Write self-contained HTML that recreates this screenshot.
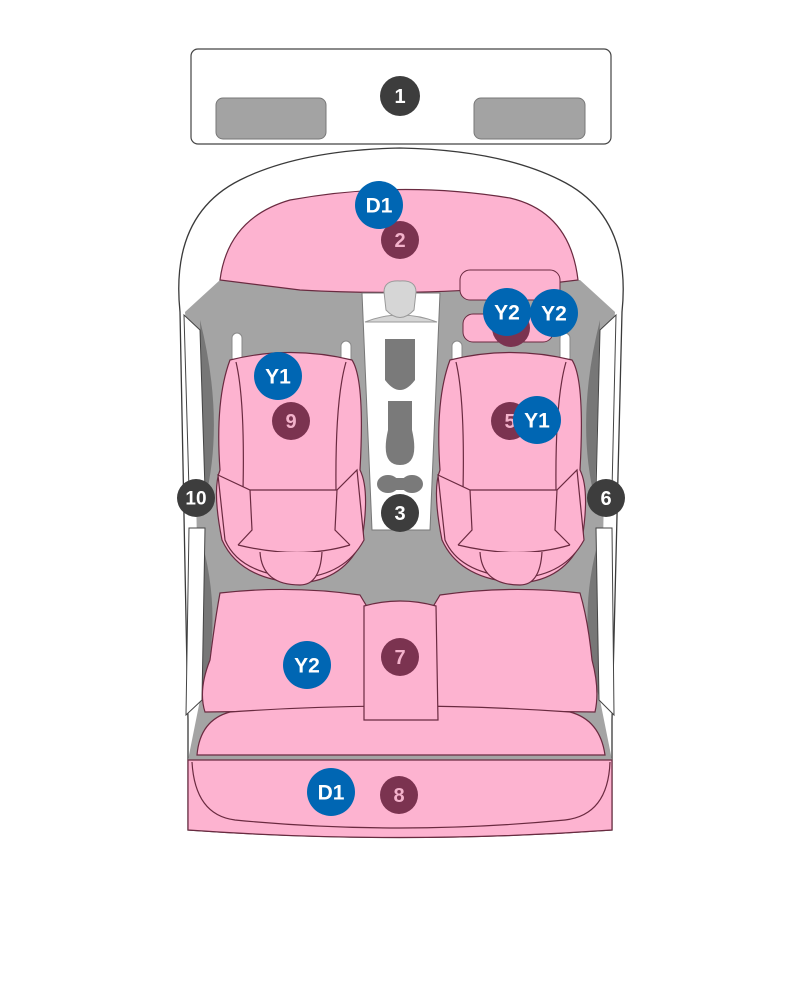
<!DOCTYPE html>
<html><head><meta charset="utf-8"><style>
html,body{margin:0;padding:0;background:#fff;width:800px;height:1002px;overflow:hidden}
svg text{font-family:"Liberation Sans",sans-serif;font-weight:bold;text-anchor:middle;dominant-baseline:central}
</style></head><body>
<svg width="800" height="1002" viewBox="0 0 800 1002" xmlns="http://www.w3.org/2000/svg">
<!-- top box -->
<rect x="191" y="49" width="420" height="95" rx="7" fill="#fff" stroke="#444" stroke-width="1.2"/>
<rect x="216" y="98" width="110" height="41" rx="7" fill="#a3a3a3" stroke="#777"/>
<rect x="474" y="98" width="111" height="41" rx="7" fill="#a3a3a3" stroke="#777"/>
<!-- car body outline -->
<path d="M180,312 Q170,215 240,180 Q300,150 400,148 Q500,150 560,180 Q632,215 622,312 L612,720 L612,830 Q400,845 188,830 L188,720 Z" fill="#fff" stroke="#3a3a3a" stroke-width="1.3"/>
<!-- grey interior -->
<path d="M185,312 L220,280 L580,280 L615,312 L605,440 L600,700 L612,760 L188,760 L200,700 L195,440 Z" fill="#a4a4a4"/>
<!-- dark side shading -->
<path d="M200,320 Q225,420 205,500 L200,320 Z M200,535 Q225,620 200,700 Z" fill="#777"/>
<path d="M600,320 Q575,420 595,500 L600,320 Z M600,535 Q575,620 600,700 Z" fill="#777"/>
<!-- door strips -->
<path d="M184,315 L200,330 L205,490 L189,490 Z" fill="#fff" stroke="#444"/>
<path d="M189,528 L205,528 L202,700 L186,715 Z" fill="#fff" stroke="#444"/>
<path d="M616,315 L600,330 L596,490 L612,490 Z" fill="#fff" stroke="#444"/>
<path d="M612,528 L596,528 L599,700 L614,715 Z" fill="#fff" stroke="#444"/>
<!-- dashboard -->
<path d="M220,280 Q228,218 290,200 Q400,180 510,198 Q570,212 578,280 L520,287 Q400,296 300,290 Z" fill="#fdb3d0" stroke="#6a2a40" stroke-width="1.2"/>
<rect x="460" y="270" width="100" height="30" rx="10" fill="#fdb3d0" stroke="#6a2a40"/>
<rect x="463" y="314" width="90" height="28" rx="10" fill="#fdb3d0" stroke="#6a2a40"/>
<!-- console -->
<path d="M362,293 L440,293 L430,530 L372,530 Z" fill="#fff" stroke="#777"/>
<path d="M365,322 Q400,308 437,322 Z" fill="#d6d6d6" stroke="#999"/>
<path d="M384,292 Q384,280 400,281 Q416,280 416,292 L414,310 Q400,325 386,310 Z" fill="#d6d6d6" stroke="#999"/>
<path d="M385,339 L415,339 L415,380 Q400,400 385,380 Z" fill="#7a7a7a"/>
<path d="M388,401 L412,401 L412,430 Q420,465 400,465 Q380,465 388,430 Z" fill="#7a7a7a"/>
<ellipse cx="388" cy="484" rx="11" ry="9" fill="#7a7a7a"/><ellipse cx="412" cy="484" rx="11" ry="9" fill="#7a7a7a"/><rect x="388" y="478" width="24" height="12" fill="#7a7a7a"/>
<!-- headrest posts -->
<rect x="232" y="333" width="10" height="30" rx="5" fill="#fff" stroke="#888"/>
<rect x="341" y="341" width="10" height="25" rx="5" fill="#fff" stroke="#888"/>
<rect x="452" y="341" width="10" height="25" rx="5" fill="#fff" stroke="#888"/>
<rect x="560" y="333" width="10" height="30" rx="5" fill="#fff" stroke="#888"/>
<!-- left seat -->
<g fill="#fdb3d0" stroke="#6a2a40" stroke-width="1.2">
<path d="M230,360 Q290,345 352,360 Q365,380 360,470 Q370,490 362,540 Q345,580 300,583 Q240,580 222,540 Q212,490 220,470 Q215,400 230,360 Z"/>
<path d="M236,362 Q245,400 243,490 M346,362 Q335,400 336,490" fill="none"/>
<path d="M218,475 L250,490 L337,490 L357,470 L364,540 Q345,575 300,578 Q240,575 225,540 Z"/>
<path d="M250,490 L252,530 L238,545 M337,490 L335,530 L350,545 M238,545 Q300,560 350,545" fill="none"/>
<path d="M260,552 Q262,585 300,585 Q320,585 322,552" />
</g>
<!-- right seat -->
<g fill="#fdb3d0" stroke="#6a2a40" stroke-width="1.2" transform="translate(220,0)">
<path d="M230,360 Q290,345 352,360 Q365,380 360,470 Q370,490 362,540 Q345,580 300,583 Q240,580 222,540 Q212,490 220,470 Q215,400 230,360 Z"/>
<path d="M236,362 Q245,400 243,490 M346,362 Q335,400 336,490" fill="none"/>
<path d="M218,475 L250,490 L337,490 L357,470 L364,540 Q345,575 300,578 Q240,575 225,540 Z"/>
<path d="M250,490 L252,530 L238,545 M337,490 L335,530 L350,545 M238,545 Q300,560 350,545" fill="none"/>
<path d="M260,552 Q262,585 300,585 Q320,585 322,552" />
</g>
<!-- rear bench -->
<g fill="#fdb3d0" stroke="#6a2a40" stroke-width="1.2">
<path d="M220,593 Q290,585 360,595 L366,605 L366,710 L205,712 Q198,690 210,660 Q215,620 220,593 Z"/>
<path d="M440,595 Q510,585 580,593 Q588,620 592,660 Q600,690 595,712 L434,710 L434,605 Z"/>
<path d="M197,755 Q200,720 230,712 Q400,700 570,712 Q600,720 605,755 Z"/>
<path d="M364,606 Q400,596 436,606 L438,720 L364,720 Z"/>
<path d="M188,760 L612,760 L612,830 Q400,845 188,830 Z"/>
<path d="M192,762 Q195,815 235,820 Q400,836 565,820 Q608,815 610,762" fill="none"/>
</g>
<!-- badges -->
<g>
<circle cx="400" cy="96" r="20" fill="#3d3d3d"/><text x="400" y="97" fill="#fff" font-size="20">1</text>
<circle cx="400" cy="240" r="19" fill="#7b3350"/><text x="400" y="241" fill="#f3b2cb" font-size="20">2</text>
<circle cx="379" cy="205" r="24" fill="#0066b3"/><text x="379" y="206" fill="#fff" font-size="21">D1</text>
<circle cx="511" cy="328" r="19" fill="#7b3350"/>
<circle cx="507" cy="312" r="24" fill="#0066b3"/><text x="507" y="313" fill="#fff" font-size="21">Y2</text>
<circle cx="554" cy="313" r="24" fill="#0066b3"/><text x="554" y="314" fill="#fff" font-size="21">Y2</text>
<circle cx="291" cy="421" r="19" fill="#7b3350"/><text x="291" y="422" fill="#f3b2cb" font-size="20">9</text>
<circle cx="278" cy="376" r="24" fill="#0066b3"/><text x="278" y="377" fill="#fff" font-size="21">Y1</text>
<circle cx="510" cy="421" r="19" fill="#7b3350"/><text x="510" y="422" fill="#f3b2cb" font-size="20">5</text>
<circle cx="537" cy="420" r="24" fill="#0066b3"/><text x="537" y="421" fill="#fff" font-size="21">Y1</text>
<circle cx="196" cy="498" r="19" fill="#3d3d3d"/><text x="196" y="499" fill="#fff" font-size="19">10</text>
<circle cx="606" cy="498" r="19" fill="#3d3d3d"/><text x="606" y="499" fill="#fff" font-size="20">6</text>
<circle cx="400" cy="513" r="19" fill="#3d3d3d"/><text x="400" y="514" fill="#fff" font-size="20">3</text>
<circle cx="400" cy="657" r="19" fill="#7b3350"/><text x="400" y="658" fill="#f3b2cb" font-size="20">7</text>
<circle cx="307" cy="665" r="24" fill="#0066b3"/><text x="307" y="666" fill="#fff" font-size="21">Y2</text>
<circle cx="399" cy="795" r="19" fill="#7b3350"/><text x="399" y="796" fill="#f3b2cb" font-size="20">8</text>
<circle cx="331" cy="792" r="24" fill="#0066b3"/><text x="331" y="793" fill="#fff" font-size="21">D1</text>
</g>
</svg>
</body></html>
